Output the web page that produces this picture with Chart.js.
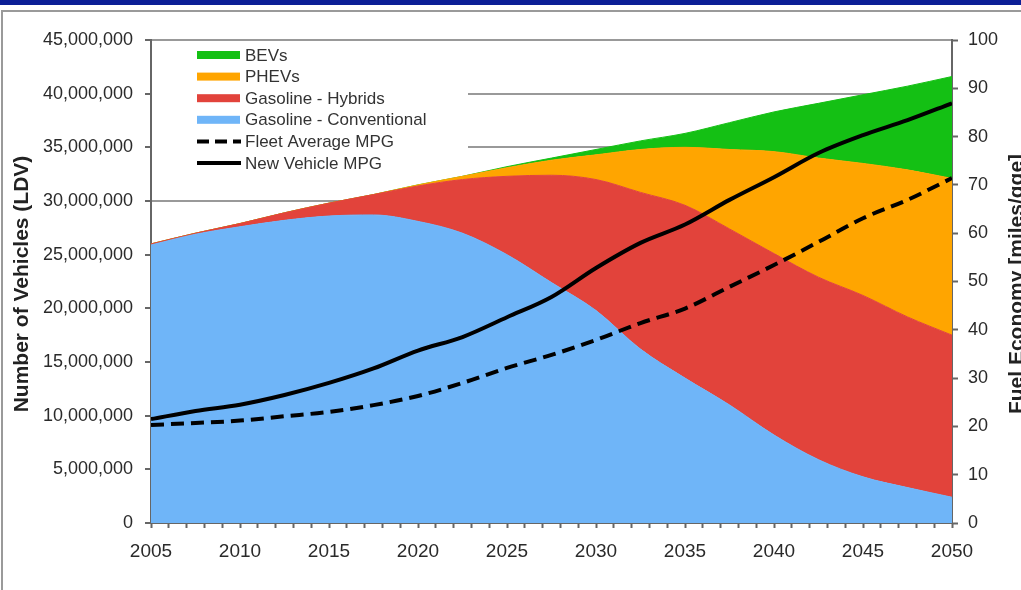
<!DOCTYPE html>
<html>
<head>
<meta charset="utf-8">
<title>LDV fleet and fuel economy</title>
<script src="https://cdn.jsdelivr.net/npm/chart.js@4/dist/chart.umd.min.js"></script>
<style>
    html, body { margin: 0; padding: 0; background: #fff; }
    body { width: 1021px; height: 590px; position: relative; overflow: hidden; }
    .band { position: absolute; left: 0; top: 0; width: 1021px; height: 5px; background: #0c1f96; }
    .frame { position: absolute; left: 1px; top: 10px; width: 1030px; height: 600px; border-left: 2px solid #9a9a9a; border-top: 2px solid #9a9a9a; }
    #fleetChart { position: absolute; left: 0; top: 0; }
</style>
</head>
<body>
<div class="band"></div>
<div class="frame"></div>
<canvas id="fleetChart" width="1021" height="590"></canvas>
<script>
// model years
const years = [2005, 2007.5, 2010, 2012.5, 2015, 2017.5, 2020, 2022.5, 2025, 2027.5,
               2030, 2032.5, 2035, 2037.5, 2040, 2042.5, 2045, 2047.5, 2050];

// light duty vehicles on the road, millions
const conventional = [25.9, 26.9, 27.6, 28.2, 28.6, 28.7, 28.1, 27.0, 25.0, 22.4,
                      19.8, 16.2, 13.5, 11.0, 8.2, 5.9, 4.3, 3.3, 2.4];
const hybrids = [0.1, 0.1, 0.3, 0.7, 1.2, 1.9, 3.3, 5.0, 7.3, 10.0,
                 12.2, 14.6, 16.1, 16.4, 16.9, 17.0, 16.9, 15.9, 15.1];
const phevs = [0, 0, 0, 0, 0, 0, 0.1, 0.3, 0.8, 1.4,
               2.3, 4.0, 5.4, 7.4, 9.5, 11.1, 12.3, 13.7, 14.6];
const bevs = [0, 0, 0, 0, 0, 0, 0, 0, 0.1, 0.2,
              0.5, 0.8, 1.3, 2.5, 3.7, 5.1, 6.4, 7.8, 9.5];

// fuel economy, miles/gge
const newVehicleMpg = [21.5, 23.2, 24.5, 26.5, 29.0, 32.0, 35.7, 38.5, 42.6, 46.8,
                       52.8, 58.0, 61.8, 66.9, 71.6, 76.6, 80.3, 83.4, 86.9];
const fleetMpg = [20.3, 20.7, 21.2, 22.1, 23.0, 24.4, 26.3, 29.0, 32.1, 34.8,
                  37.9, 41.4, 44.4, 48.9, 53.4, 58.2, 63.1, 66.9, 71.4];

const FONT = "'Liberation Sans', Arial, Helvetica, sans-serif";

function points(values) {
    return years.map((yr, i) => ({ x: yr, y: values[i] }));
}

function area(label, values, color, fill) {
    return {
        label: label,
        data: points(values),
        backgroundColor: color,
        borderColor: color,
        borderWidth: 1,
        pointRadius: 0,
        fill: fill,
        cubicInterpolationMode: 'monotone',
        yAxisID: 'y'
    };
}

function mpgLine(label, values, dash) {
    return {
        label: label,
        data: points(values),
        borderColor: '#000',
        borderWidth: 4,
        borderDash: dash,
        pointRadius: 0,
        fill: false,
        cubicInterpolationMode: 'monotone',
        yAxisID: 'y1',
        order: -1
    };
}

const datasets = [
    area('Gasoline - Conventional', conventional, '#6fb5f8', 'origin'),
    area('Gasoline - Hybrids', hybrids, '#e2433b', '-1'),
    area('PHEVs', phevs, '#ffa500', '-1'),
    area('BEVs', bevs, '#14c014', '-1'),
    mpgLine('Fleet Average MPG', fleetMpg, [13, 7]),
    mpgLine('New Vehicle MPG', newVehicleMpg, [])
];

// legend order top to bottom
const legendOrder = ['BEVs', 'PHEVs', 'Gasoline - Hybrids', 'Gasoline - Conventional',
                     'Fleet Average MPG', 'New Vehicle MPG'];

const boxLegend = {
    id: 'boxLegend',
    beforeDatasetsDraw(chart) {
        const ctx = chart.ctx;
        const area = chart.chartArea;
        ctx.save();
        ctx.fillStyle = '#fff';
        ctx.fillRect(area.left + 1, area.top + 2, 316, 134);
        ctx.font = '17px ' + FONT;
        ctx.textBaseline = 'middle';
        legendOrder.forEach((name, i) => {
            const ds = chart.data.datasets.find(d => d.label === name);
            const y = 55 + i * 21.6;
            if (ds.fill) {
                ctx.fillStyle = ds.backgroundColor;
                ctx.fillRect(197, y - 4, 43, 8);
            } else {
                ctx.strokeStyle = ds.borderColor;
                ctx.lineWidth = 4;
                ctx.setLineDash(ds.borderDash.length ? [12, 6] : []);
                ctx.beginPath();
                ctx.moveTo(197, y);
                ctx.lineTo(241, y);
                ctx.stroke();
                ctx.setLineDash([]);
            }
            ctx.fillStyle = '#333';
            ctx.fillText(name, 245, y + 1);
        });
        ctx.restore();
    }
};

// both axis titles read bottom to top
const axisTitles = {
    id: 'axisTitles',
    afterDraw(chart) {
        const ctx = chart.ctx;
        const mid = 284;
        ctx.save();
        ctx.font = 'bold 21px ' + FONT;
        ctx.fillStyle = '#222';
        ctx.textAlign = 'center';
        ctx.textBaseline = 'middle';
        [[22, 'Number of Vehicles (LDV)'], [1017, 'Fuel Economy [miles/gge]']].forEach(([x, text]) => {
            ctx.save();
            ctx.translate(x, mid);
            ctx.rotate(-Math.PI / 2);
            ctx.fillText(text, 0, 0);
            ctx.restore();
        });
        ctx.restore();
    }
};

new Chart(document.getElementById('fleetChart').getContext('2d'), {
    type: 'line',
    data: { datasets: datasets },
    options: {
        responsive: false,
        animation: false,
        devicePixelRatio: 1,
        events: [],
        layout: { padding: { top: 40, left: 0, right: 0, bottom: 0 } },
        plugins: {
            legend: { display: false },
            tooltip: { enabled: false }
        },
        scales: {
            x: {
                type: 'linear',
                min: 2005,
                max: 2050,
                afterFit: s => { s.height = 67; },
                border: { color: '#666', width: 2 },
                grid: { drawOnChartArea: false, tickLength: 5, tickColor: '#666', tickWidth: 2 },
                ticks: {
                    stepSize: 1,
                    autoSkip: false,
                    maxRotation: 0,
                    padding: 12,
                    color: '#2a2a2a',
                    font: { family: FONT, size: 19 },
                    callback: v => (v % 5 === 0 ? String(v) : '')
                }
            },
            y: {
                position: 'left',
                stacked: true,
                min: 0,
                max: 45,
                afterFit: s => { s.width = 151; },
                border: { color: '#666', width: 2 },
                grid: { color: '#999', lineWidth: 2, tickLength: 6, tickColor: '#666', tickWidth: 2 },
                ticks: {
                    stepSize: 5,
                    padding: 12,
                    color: '#2a2a2a',
                    font: { family: FONT, size: 18 },
                    callback: v => (v * 1000000).toLocaleString('en-US')
                }
            },
            y1: {
                position: 'right',
                min: 0,
                max: 100,
                afterFit: s => { s.width = 69; },
                border: { color: '#666', width: 2 },
                grid: { drawOnChartArea: false, tickLength: 6, tickColor: '#666', tickWidth: 2 },
                ticks: {
                    stepSize: 10,
                    padding: 10,
                    color: '#2a2a2a',
                    font: { family: FONT, size: 18 }
                }
            }
        }
    },
    plugins: [boxLegend, axisTitles]
});
</script>
</body>
</html>
